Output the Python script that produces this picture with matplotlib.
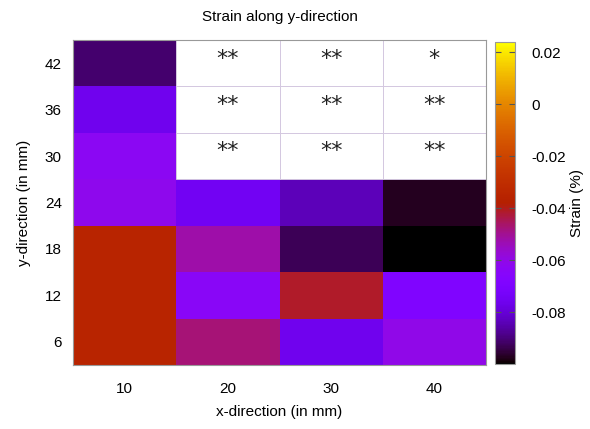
import numpy as np
import matplotlib.pyplot as plt

plt.rcParams['font.family'] = ['Liberation Sans', 'DejaVu Sans']

# grid positions (in mm)
x_pos = [10, 20, 30, 40]
y_pos = [6, 12, 18, 24, 30, 36, 42]

# strain (%) per cell, rows = y_pos, cols = x_pos; nan = no data
strain = np.array([
    [-0.0355, -0.0474, -0.0760, -0.0604],   # y=6
    [-0.0355, -0.0637, -0.0410, -0.0690],   # y=12
    [-0.0355, -0.0524, -0.0932, -0.1000],   # y=18
    [-0.0616, -0.0750, -0.0839, -0.0975],   # y=24
    [-0.0628, np.nan, np.nan, np.nan],      # y=30
    [-0.0760, np.nan, np.nan, np.nan],      # y=36
    [-0.0912, np.nan, np.nan, np.nan],      # y=42
])

# markers written in the empty cells
marks = {(20, 30): '**', (30, 30): '**', (40, 30): '**',
         (20, 36): '**', (30, 36): '**', (40, 36): '**',
         (20, 42): '**', (30, 42): '**', (40, 42): '*'}

fig = plt.figure(figsize=(5.9, 4.29), dpi=100)
ax = fig.add_axes([73/590, 1 - 365/429, 413/590, 325/429])
cax = fig.add_axes([495/590, 1 - 364/429, 20/590, 322/429])

x_edges = np.array([5, 15, 25, 35, 45])
y_edges = np.array([3, 9, 15, 21, 27, 33, 39, 45])
mesh = ax.pcolormesh(x_edges, y_edges, np.ma.masked_invalid(strain),
                     cmap='gnuplot', vmin=-0.1, vmax=0.024)

# faint outlines of the empty cells
for (xv, yv) in marks:
    ax.add_patch(plt.Rectangle((xv - 5, yv - 3), 10, 6, fill=False,
                               edgecolor='#d4c8e0', linewidth=0.7))
    ax.text(xv, yv + 0.6, marks[(xv, yv)], ha='center', va='center',
            fontsize=16, family='DejaVu Sans', color='#222222')

ax.set_xlim(5, 45)
ax.set_ylim(3, 45)
ax.set_xticks(x_pos)
ax.set_yticks(y_pos)
ax.tick_params(length=0, labelsize=11, pad=12)
ax.tick_params(axis='y', pad=8)
for s in ax.spines.values():
    s.set_color('#999999')
    s.set_linewidth(0.8)

ax.set_xlabel('x-direction (in mm)', fontsize=11, labelpad=7)
ax.set_ylabel('y-direction (in mm)', fontsize=11, labelpad=10)
ax.set_title('Strain along y-direction', fontsize=11, pad=14)

cb = fig.colorbar(mesh, cax=cax)
cb.set_ticks([0.02, 0, -0.02, -0.04, -0.06, -0.08])
cb.set_ticklabels(['0.02', '0', '-0.02', '-0.04', '-0.06', '-0.08'])
cax.tick_params(direction='in', left=True, right=True, length=4,
                width=0.8, color='#555555', labelsize=11, pad=12)
cb.outline.set_edgecolor('#999999')
cb.outline.set_linewidth(0.8)
cb.set_label('Strain (%)', fontsize=11, labelpad=3)

plt.savefig('out.png', dpi=100)
